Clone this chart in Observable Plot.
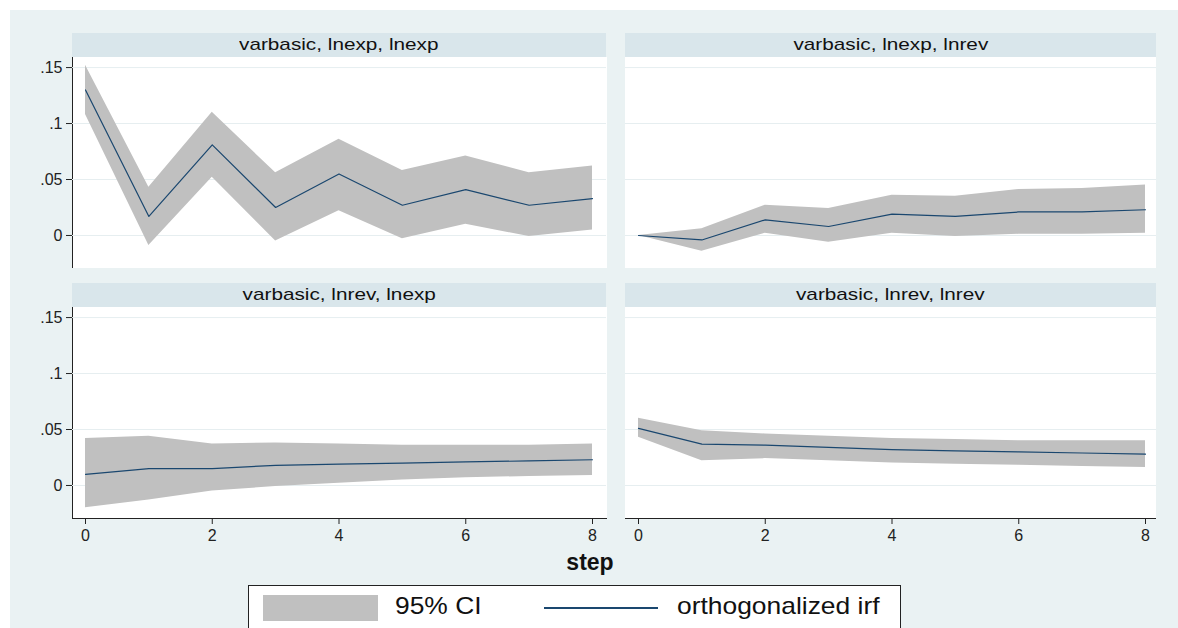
<!DOCTYPE html>
<html><head><meta charset="utf-8">
<script src="https://cdn.jsdelivr.net/npm/d3@7"></script>
<script src="https://cdn.jsdelivr.net/npm/@observablehq/plot@0.6"></script>
<style>
body{margin:0;background:#fff;font-family:"Liberation Sans",Arial,sans-serif;}
#fig{position:absolute;left:10px;top:10px;width:1168px;height:618px;background:#eaf2f3;}
.strip{position:absolute;background:#d9e6eb;height:24px;line-height:24px;text-align:center;font-size:17px;color:#111;}
.strip span{display:inline-block;transform:scaleX(1.22);}
.plotbg{position:absolute;background:#fff;}
.abs{position:absolute;}
.wide{display:inline-block;transform:scaleX(1.1);transform-origin:left center;}
</style></head><body>
<div id="fig"></div>
<div id="root"></div>
<script>
const steps = [0,1,2,3,4,5,6,7,8];
const titles = ["varbasic, lnexp, lnexp","varbasic, lnexp, lnrev","varbasic, lnrev, lnexp","varbasic, lnrev, lnrev"];
const irfTL = [0.130,0.017,0.081,0.025,0.055,0.027,0.041,0.027,0.033];
const loTL  = [0.108,-0.009,0.052,-0.005,0.022,-0.003,0.010,-0.001,0.005];
const hiTL  = [0.152,0.043,0.110,0.056,0.086,0.058,0.071,0.056,0.062];
const irfTR = [0,-0.004,0.014,0.008,0.019,0.017,0.021,0.021,0.023];
const loTR  = [0,-0.014,0.002,-0.006,0.002,-0.001,0.001,0.001,0.002];
const hiTR  = [0,0.006,0.027,0.024,0.036,0.035,0.041,0.042,0.045];
const irfBL = [0.010,0.015,0.015,0.018,0.019,0.020,0.021,0.022,0.023];
const loBL  = [-0.020,-0.013,-0.005,-0.001,0.002,0.005,0.007,0.008,0.009];
const hiBL  = [0.042,0.044,0.037,0.038,0.037,0.036,0.036,0.036,0.037];
const irfBR = [0.051,0.037,0.036,0.034,0.032,0.031,0.030,0.029,0.028];
const loBR  = [0.043,0.022,0.024,0.022,0.020,0.019,0.018,0.017,0.016];
const hiBR  = [0.060,0.049,0.046,0.044,0.042,0.041,0.040,0.040,0.040];
const yTicks = [0,0.05,0.1,0.15];
const yTickLabels = ["0",".05",".1",".15"];
const xTicks = [0,2,4,6,8];

const series = [[irfTL,loTL,hiTL],[irfTR,loTR,hiTR],[irfBL,loBL,hiBL],[irfBR,loBR,hiBR]];
const root = document.getElementById("root");
function add(el, css){el.style.cssText += css; root.appendChild(el); return el;}

series.forEach(([irf,lo,hi],i)=>{
  const col = i%2, row = Math.floor(i/2);
  const px = col ? 625 : 72, pw = col ? 531 : 534;
  const sy = row ? 283 : 33, py = sy+24, ph = 211;
  const s = document.createElement("div"); s.className="strip"; s.innerHTML = `<span>${titles[i]}</span>`;
  add(s, `left:${px}px;top:${sy}px;width:${pw}px;`);
  const bg = document.createElement("div"); bg.className="plotbg";
  add(bg, `left:${px}px;top:${py}px;width:${pw}px;height:${ph}px;` +
    (col===0 ? "border-left:1px solid #222;" : "") + (row===1 ? "border-bottom:1px solid #222;" : ""));
  const data = steps.map((s,k)=>({step:s, irf:irf[k], lo:lo[k], hi:hi[k]}));
  const ml = col===0 ? 60 : 0, mb = row===1 ? 36 : 0;
  const chart = Plot.plot({
    width: pw+ml, height: ph+mb, marginLeft: ml, marginRight:0, marginTop:0, marginBottom: mb,
    style:{background:"transparent", fontFamily:"Liberation Sans, Arial, sans-serif", fontSize:"16px", color:"#222"},
    x:{domain:[0,8], range:[ml+13, ml+13+507], axis: row===1 ? "bottom" : null, ticks: xTicks, tickSize:6, tickPadding:5, label:null},
    y:{domain:[-0.0295,0.159], axis: col===0 ? "left" : null, ticks: yTicks, tickFormat:(d)=>yTickLabels[yTicks.indexOf(d)], tickSize:6, tickPadding:4, label:null},
    marks:[
      Plot.gridY(yTicks,{stroke:"#e6eef0", strokeOpacity:1}),
      Plot.areaY(data,{x:"step", y1:"lo", y2:"hi", fill:"#c0c0c0", fillOpacity:1}),
      Plot.lineY(data,{x:"step", y:"irf", stroke:"#1a476f", strokeWidth:1.2})
    ]
  });
  add(chart, `position:absolute;left:${px-ml}px;top:${py}px;`);
});

const st = document.createElement("div"); st.textContent="step";
add(st, "position:absolute;left:540px;top:549px;width:100px;text-align:center;font-size:23px;font-weight:bold;color:#111;");

const leg = document.createElement("div");
add(leg, "position:absolute;left:248px;top:585px;width:653px;height:50px;background:#fff;border:1px solid #222;box-sizing:border-box;");
leg.innerHTML = `<div class="abs" style="left:14px;top:9px;width:115px;height:26px;background:#c0c0c0"></div>
<div class="abs" style="left:146px;top:6px;font-size:24px;color:#111"><span class="wide">95% CI</span></div>
<div class="abs" style="left:295px;top:21px;width:114px;height:2px;background:#1a476f"></div>
<div class="abs" style="left:428px;top:6px;font-size:24px;color:#111"><span class="wide">orthogonalized irf</span></div>`;
</script>
</body></html>
